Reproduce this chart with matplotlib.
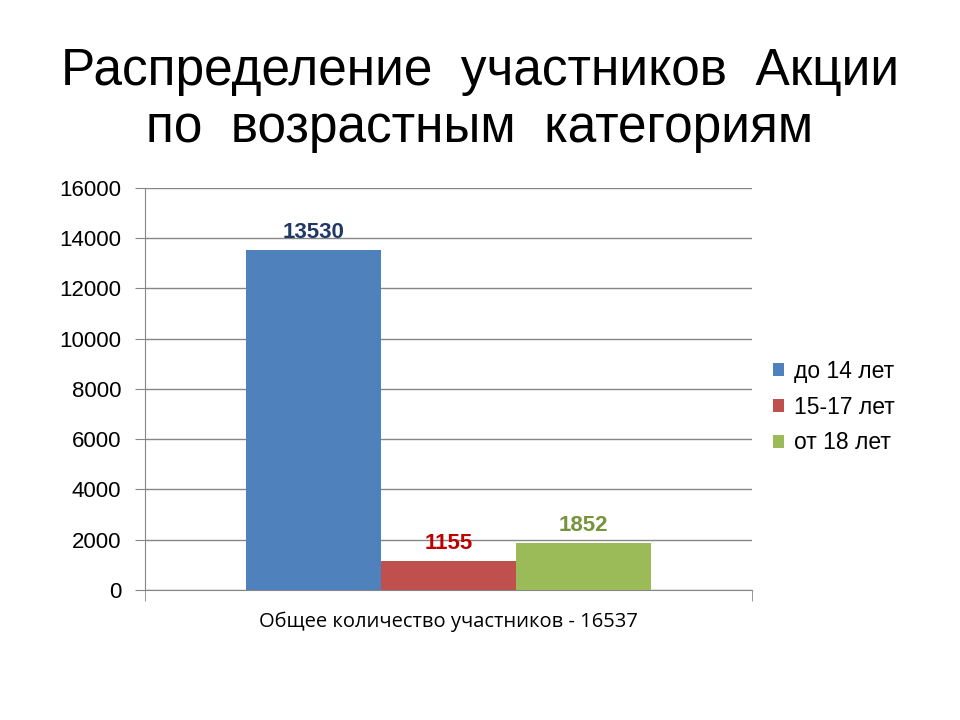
import matplotlib.pyplot as plt
from matplotlib.ticker import FixedLocator

# data
groups = ['до 14 лет', '15-17 лет', 'от 18 лет']
counts = [13530, 1155, 1852]
bar_colors = ['#4F81BD', '#C0504D', '#9BBB59']
label_colors = ['#1F3864', '#C00000', '#77933C']
y_ticks = [0, 2000, 4000, 6000, 8000, 10000, 12000, 14000, 16000]
x_caption = 'Общее количество участников - 16537'
title = 'Распределение  участников  Акции\nпо  возрастным  категориям'

plt.rcParams['font.family'] = ['Liberation Sans', 'DejaVu Sans']

fig = plt.figure(figsize=(9.6, 7.2), dpi=100)
ax = fig.add_axes([0.151, 0.1806, 0.632, 0.5583])

w = 0.2224
offsets = [-w, 0, w]
for off, val, col, lc, name in zip(offsets, counts, bar_colors, label_colors, groups):
    ax.bar(off, val, width=w, color=col, label=name, zorder=3)
    ax.annotate(str(val), (off, val), xytext=(0, 5), textcoords='offset points',
                ha='center', va='bottom', fontsize=16, fontweight='bold', color=lc)

ax.set_xlim(-0.5, 0.5)
ax.set_ylim(0, 16000)
ax.set_yticks(y_ticks)
ax.tick_params(axis='y', labelsize=16, length=7, color='#868686', pad=10)
ax.yaxis.grid(True, color='#868686', linewidth=1, zorder=0)

ax.set_xticks([])
ax.xaxis.set_minor_locator(FixedLocator([-0.5, 0.5]))
ax.tick_params(axis='x', which='minor', length=8, color='#868686')
ax.set_xlabel(x_caption, family=['Open Sans', 'DejaVu Sans'], fontsize=14.5, labelpad=4)

for side in ['top', 'right']:
    ax.spines[side].set_visible(False)
for side in ['left', 'bottom']:
    ax.spines[side].set_color('#868686')

ax.legend(loc='center left', bbox_to_anchor=(1.02, 0.455), frameon=False, fontsize=16.5,
          handlelength=0.5, handleheight=0.5, handletextpad=0.4, labelspacing=0.55,
          borderaxespad=0.0)

fig.text(0.5, 0.861, title, ha='center', va='center', fontsize=37, linespacing=1.2)

fig.savefig('out.png', dpi=100)
